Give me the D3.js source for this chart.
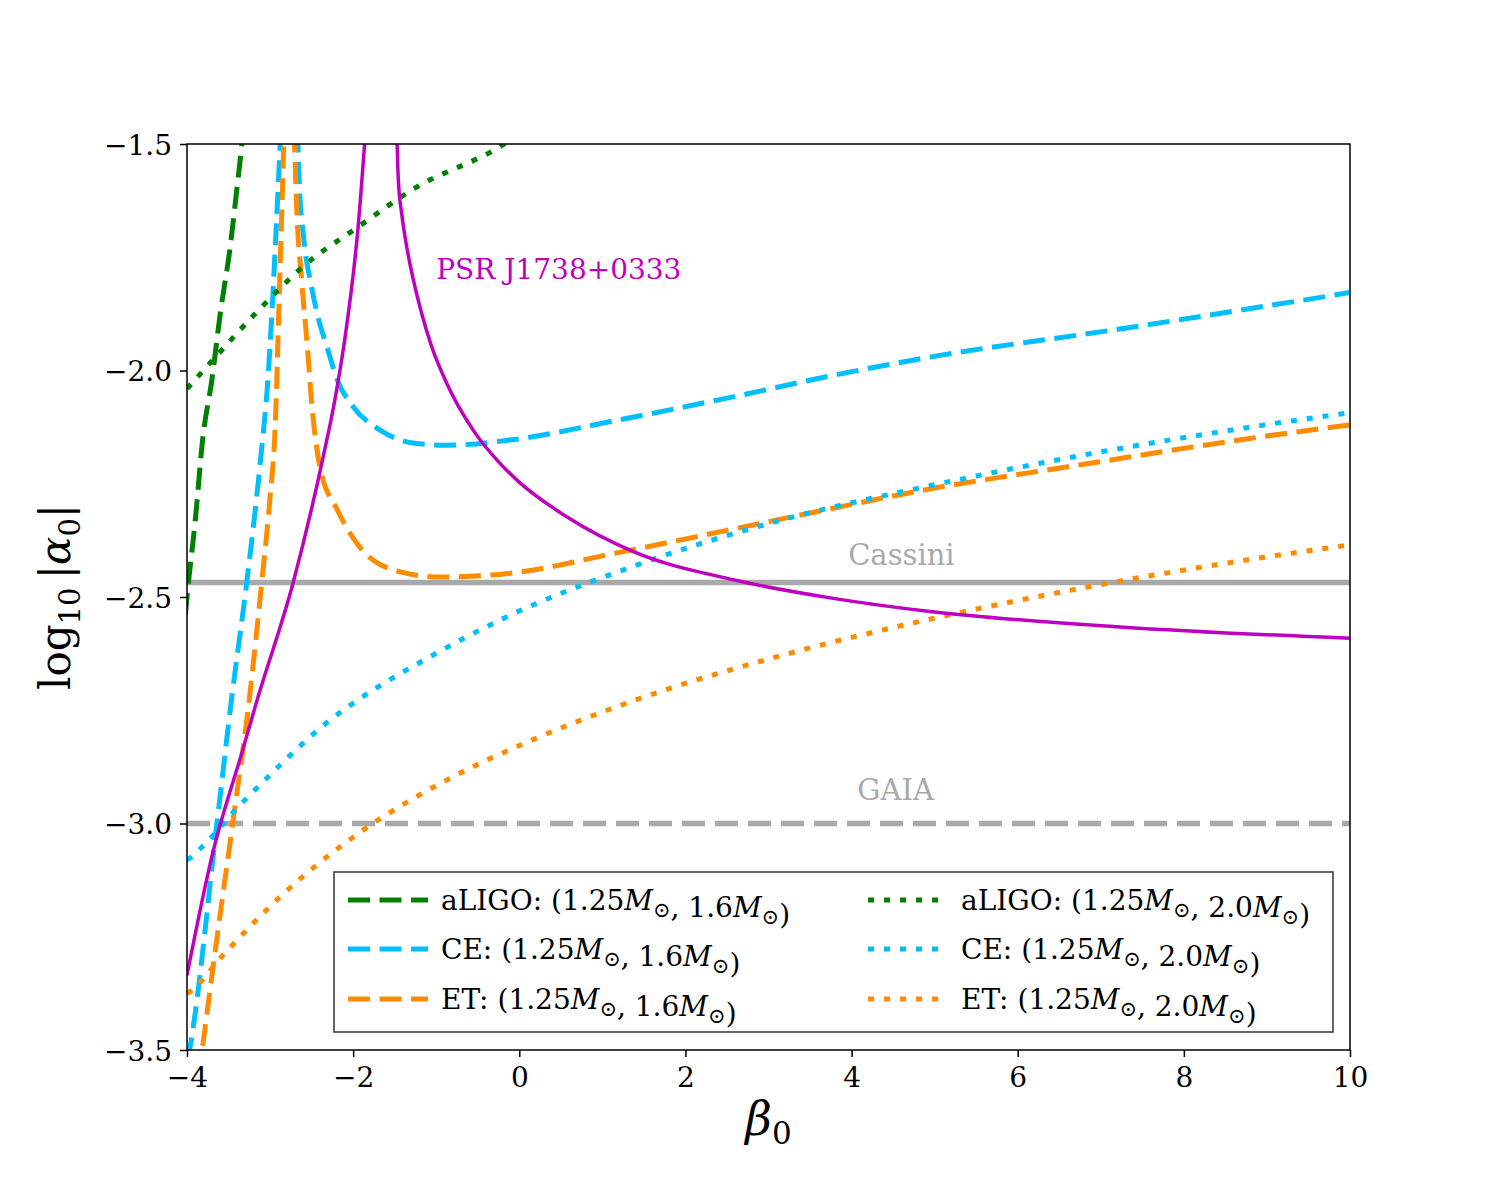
<!DOCTYPE html>
<html>
<head>
<meta charset="utf-8">
<script src="https://cdn.jsdelivr.net/npm/d3@7"></script>
<style>
  body { margin: 0; background: #fff; }
  svg text { font-family: "DejaVu Serif", serif; }
</style>
</head>
<body>
<div id="chart"></div>
<script>
// axis ticks
const betaTicks = [-4, -2, 0, 2, 4, 6, 8, 10];
const logAlphaTicks = [-3.5, -3.0, -2.5, -2.0, -1.5];

// horizontal bounds
const cassiniBound = -2.468;
const gaiaBound = -3.0;

// curves: each is a list of branches of [beta0, log10|alpha0|]
const aligo16 = [
  [[-4.02, -2.54], [-4.0, -2.50], [-3.90, -2.33], [-3.81, -2.15], [-3.70, -2.02], [-3.60, -1.875],
   [-3.48, -1.727], [-3.40, -1.60], [-3.32, -1.47]]
];
const aligo20 = [
  [[-4.0, -2.04], [-3.96, -2.032], [-3.69, -1.977], [-3.16, -1.871], [-2.58, -1.767],
   [-1.94, -1.683], [-1.28, -1.60], [-0.20, -1.502], [-0.10, -1.49]]
];
const ce16 = [
  [[-3.99, -3.52], [-3.96, -3.49], [-3.64, -3.0], [-3.46, -2.72], [-3.28, -2.467],
   [-3.10, -2.17], [-3.03, -2.03], [-2.98, -1.88], [-2.93, -1.70], [-2.87, -1.47]],
  [[-2.67, -1.47], [-2.645, -1.60], [-2.60, -1.70], [-2.50, -1.816], [-2.435, -1.873],
   [-2.315, -1.948], [-2.19, -2.021], [-2.0, -2.08], [-1.68, -2.131], [-1.28, -2.16],
   [-0.87, -2.165], [-0.09, -2.153], [1.2, -2.109], [2.5, -2.061], [3.8, -2.01],
   [4.8, -1.975], [7.39, -1.904], [10.0, -1.828]]
];
const ce20 = [
  [[-4.0, -3.08], [-3.96, -3.076], [-3.82, -3.052], [-3.68, -3.025], [-3.42, -2.97],
   [-3.28, -2.944], [-2.88, -2.871], [-2.28, -2.772], [-1.94, -2.727], [-1.075, -2.632],
   [-0.232, -2.551], [1.453, -2.427], [3.178, -2.329], [4.904, -2.256], [6.87, -2.184],
   [8.836, -2.124], [10.0, -2.093]]
];
const et16 = [
  [[-3.86, -3.56], [-3.81, -3.49], [-3.63, -3.24], [-3.45, -3.0], [-3.24, -2.71],
   [-3.10, -2.467], [-3.0, -2.28], [-2.94, -2.13], [-2.89, -1.84], [-2.83, -1.47]],
  [[-2.71, -1.47], [-2.68, -1.64], [-2.62, -1.80], [-2.55, -1.95], [-2.50, -2.07],
   [-2.40, -2.213], [-2.19, -2.308], [-1.92, -2.39], [-1.52, -2.44], [-0.95, -2.456],
   [-0.132, -2.448], [1.19, -2.402], [2.497, -2.353], [3.78, -2.304], [4.78, -2.267],
   [6.83, -2.206], [8.796, -2.15], [10.0, -2.12]]
];
const et20 = [
  [[-4.0, -3.375], [-3.964, -3.371], [-3.563, -3.29], [-2.88, -3.162], [-1.938, -3.022],
   [-0.914, -2.908], [0.15, -2.816], [1.453, -2.724], [3.178, -2.628], [4.944, -2.549],
   [6.87, -2.477], [8.836, -2.416], [10.0, -2.385]]
];
const psr = [
  [[-4.0, -3.335], [-3.69, -3.065], [-3.33, -2.838], [-3.16, -2.73], [-2.72, -2.467],
   [-2.36, -2.19], [-2.22, -2.065], [-2.10, -1.93], [-1.94, -1.683], [-1.85, -1.47]],
  [[-1.475, -1.47], [-1.456, -1.579], [-1.416, -1.653], [-1.355, -1.727], [-1.275, -1.80],
   [-1.175, -1.874], [-1.055, -1.947], [-0.874, -2.028], [-0.557, -2.131], [-0.232, -2.205],
   [0.009, -2.248], [0.571, -2.323], [1.374, -2.40], [2.577, -2.462], [3.78, -2.503],
   [4.944, -2.532], [7.23, -2.566], [10.0, -2.591]]
];

const detectors = ['aLIGO', 'CE', 'ET'];
const companionMass = ['1.6', '2.0'];

const width = 1500, height = 1200;
const margin = { top: 144, right: 150, bottom: 150, left: 187 };

const svg = d3.select('#chart').append('svg')
  .attr('width', width)
  .attr('height', height);

const x = d3.scaleLinear().domain([-4, 10]).range([margin.left, width - margin.right]);
const y = d3.scaleLinear().domain([-3.5, -1.5]).range([height - margin.bottom, margin.top]);

svg.append('clipPath').attr('id', 'plot-clip')
  .append('rect')
  .attr('x', margin.left).attr('y', margin.top)
  .attr('width', x(10) - x(-4)).attr('height', y(-3.5) - y(-1.5));

const dashed = '22,9.5';
const dotted = '6,10';

const series = [
  { det: 0, mass: 0, data: aligo16, color: '#008000', dash: dashed },
  { det: 1, mass: 0, data: ce16, color: '#00BFFF', dash: dashed },
  { det: 2, mass: 0, data: et16, color: '#FF8C00', dash: dashed },
  { det: 0, mass: 1, data: aligo20, color: '#008000', dash: dotted },
  { det: 1, mass: 1, data: ce20, color: '#00BFFF', dash: dotted },
  { det: 2, mass: 1, data: et20, color: '#FF8C00', dash: dotted }
];

const line = d3.line()
  .x(d => x(d[0]))
  .y(d => y(d[1]))
  .curve(d3.curveMonotoneX);

const plot = svg.append('g').attr('clip-path', 'url(#plot-clip)');

// bounds from Cassini and GAIA
plot.append('line')
  .attr('x1', x(-4)).attr('x2', x(10))
  .attr('y1', y(cassiniBound)).attr('y2', y(cassiniBound))
  .attr('stroke', '#A9A9A9').attr('stroke-width', 5.5);
plot.append('line')
  .attr('x1', x(-4)).attr('x2', x(10))
  .attr('y1', y(gaiaBound)).attr('y2', y(gaiaBound))
  .attr('stroke', '#A9A9A9').attr('stroke-width', 5.5)
  .attr('stroke-dasharray', '23,10');

// detector curves
series.forEach(s => {
  plot.selectAll(null)
    .data(s.data)
    .enter()
    .append('path')
    .attr('d', line)
    .attr('fill', 'none')
    .attr('stroke', s.color)
    .attr('stroke-width', 5)
    .attr('stroke-dasharray', s.dash);
});

// pulsar bound
plot.selectAll(null)
  .data(psr)
  .enter()
  .append('path')
  .attr('d', line)
  .attr('fill', 'none')
  .attr('stroke', '#BF00BF')
  .attr('stroke-width', 3.5);

// annotations
svg.append('text')
  .attr('x', x(4.6)).attr('y', y(-2.43))
  .attr('text-anchor', 'middle')
  .attr('font-size', 29).attr('fill', '#A9A9A9')
  .text('Cassini');
svg.append('text')
  .attr('x', x(4.53)).attr('y', y(-2.948))
  .attr('text-anchor', 'middle')
  .attr('font-size', 29).attr('fill', '#A9A9A9')
  .text('GAIA');
svg.append('text')
  .attr('x', x(-1.0)).attr('y', y(-1.798))
  .attr('font-size', 28).attr('fill', '#BF00BF')
  .text('PSR J1738+0333');

// frame
svg.append('rect')
  .attr('x', margin.left).attr('y', margin.top)
  .attr('width', x(10) - x(-4)).attr('height', y(-3.5) - y(-1.5))
  .attr('fill', 'none').attr('stroke', '#000').attr('stroke-width', 1.5);

// axes
const xAxis = svg.append('g')
  .attr('transform', `translate(0,${height - margin.bottom})`)
  .call(d3.axisBottom(x).tickValues(betaTicks).tickFormat(d3.format('d')).tickSize(7).tickPadding(10));
const yAxis = svg.append('g')
  .attr('transform', `translate(${margin.left},0)`)
  .call(d3.axisLeft(y).tickValues(logAlphaTicks).tickFormat(d3.format('.1f')).tickSize(7).tickPadding(8));
[xAxis, yAxis].forEach(a => {
  a.attr('font-family', null);
  a.select('.domain').remove();
  a.selectAll('.tick line').attr('stroke', '#000').attr('stroke-width', 1.5);
  a.selectAll('.tick text')
    .attr('font-size', 28).attr('fill', '#000');
});
yAxis.selectAll('.tick text').attr('dy', '0.36em');

// axis titles
const yTitle = svg.append('text')
  .attr('transform', `translate(70,${(y(-1.5) + y(-3.5)) / 2}) rotate(-90)`)
  .attr('text-anchor', 'middle')
  .attr('font-size', 42);
yTitle.append('tspan').text('log');
yTitle.append('tspan').attr('font-size', 29).attr('dy', 10).text('10');
yTitle.append('tspan').attr('dy', -10).text('\u2009|');
yTitle.append('tspan').attr('font-style', 'italic').text('α');
yTitle.append('tspan').attr('font-size', 29).attr('dy', 10).text('0');
yTitle.append('tspan').attr('dy', -10).text('|');

const xTitle = svg.append('text')
  .attr('x', (x(-4) + x(10)) / 2)
  .attr('y', 1135)
  .attr('text-anchor', 'middle')
  .attr('font-size', 46);
xTitle.append('tspan').attr('font-style', 'italic').text('β');
xTitle.append('tspan').attr('font-size', 31).attr('dy', 9).text('0');

// legend
const legend = svg.append('g');
legend.append('rect')
  .attr('x', 334).attr('y', 872)
  .attr('width', 999).attr('height', 160)
  .attr('fill', '#fff').attr('stroke', '#333').attr('stroke-width', 1.5);

const colX = [348, 868];
const rowY = [900, 949, 999];

function sunMass(t) {
  t.append('tspan').attr('font-style', 'italic').text('M');
  t.append('tspan').attr('font-size', 21).attr('dy', 7).text('⊙');
  t.append('tspan').attr('dy', -7).text('');
}

series.forEach(s => {
  const lx = colX[s.mass], ly = rowY[s.det];
  legend.append('line')
    .attr('x1', lx).attr('x2', lx + 80)
    .attr('y1', ly).attr('y2', ly)
    .attr('stroke', s.color).attr('stroke-width', 5)
    .attr('stroke-dasharray', s.dash);
  const t = legend.append('text')
    .attr('x', lx + 93)
    .attr('y', ly + 10)
    .attr('font-size', 28);
  t.append('tspan').text(`${detectors[s.det]}: (1.25`);
  sunMass(t);
  t.append('tspan').text(`, ${companionMass[s.mass]}`);
  sunMass(t);
  t.append('tspan').text(')');
});
</script>
</body>
</html>
